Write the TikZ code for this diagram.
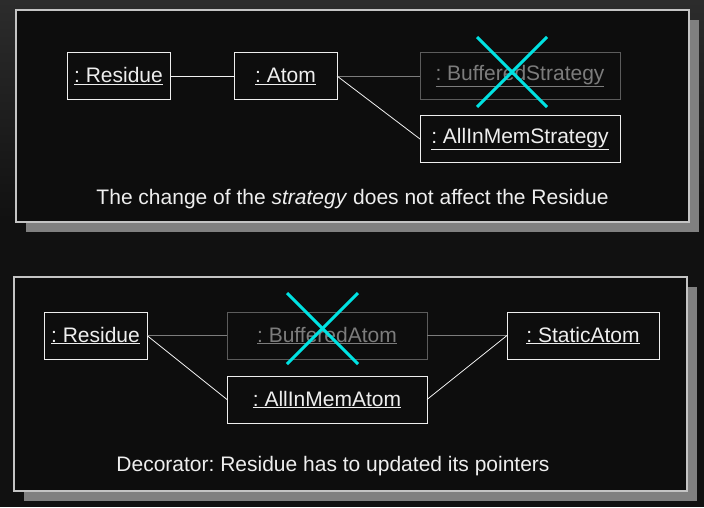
\documentclass[tikz,border=0pt]{standalone}
\usepackage{fontspec}
\setmainfont{Liberation Sans}
\frenchspacing
\usetikzlibrary{positioning}
\definecolor{BgTop}{HTML}{2C2C2C}
\definecolor{BgDark}{HTML}{111111}
\definecolor{PanelFill}{HTML}{0D0D0D}
\definecolor{PanelLine}{HTML}{C4C4C4}
\definecolor{Shadow}{HTML}{808080}
\definecolor{Ink}{HTML}{EEEEEE}
\definecolor{Dim}{HTML}{5C5C5C}
\definecolor{DimInk}{HTML}{7C7C7C}
\definecolor{Cross}{HTML}{00E2E2}

\begin{document}
\begin{tikzpicture}[
    x=1pt, y=-1pt,
    font=\fontsize{21}{25}\selectfont,
    obj/.style={rectangle, draw=Ink, line width=1pt, text=Ink, minimum height=47pt, inner sep=0pt, outer sep=0pt},
    gone/.style={rectangle, draw=Dim, line width=1pt, text=DimInk, minimum height=47pt, inner sep=0pt, outer sep=0pt},
    link/.style={draw=Ink!90, line width=0.8pt},
    deadlink/.style={draw=DimInk, line width=0.8pt},
    panel/.style={fill=PanelFill, draw=PanelLine, line width=1.5pt},
    shadow/.style={fill=Shadow},
    cross/.style={draw=Cross, line width=3pt},
    caption/.style={text=Ink},
  ]

  % Background
  \useasboundingbox (0,0) rectangle (704,507);
  \shade[top color=BgTop, bottom color=BgDark] (0,0) rectangle (704,220);
  \fill[BgDark] (0,220) rectangle (704,507);

  % Panels with shadows
  \fill[shadow] (26,20) rectangle (699,232);
  \draw[panel] (16,10) rectangle (689,222);
  \fill[shadow] (24,287) rectangle (697,501);
  \draw[panel] (14,277) rectangle (687,491);

  % Strategy
  \node[obj, minimum width=103pt] (res1) at (118.5,76) {\underline{: Residue}};
  \node[obj, minimum width=103pt, right=64pt of res1] (atom1) {\underline{: Atom}};
  \node[gone, minimum width=200pt, right=83pt of atom1] (buf1) {\underline{: BufferedStrategy}};
  \node[obj, minimum width=200pt, below=16pt of buf1] (mem1) {\underline{: AllInMemStrategy}};

  \draw[link] (res1) -- (atom1);
  \draw[deadlink] (atom1.east) -- (buf1.west);
  \draw[link] (atom1.east) -- (mem1.west);
  \draw[cross] (477,37) -- (547,107);
  \draw[cross] (547,37) -- (477,107);

  \node[caption] (cap1) at (352.5,199) {The change of the \textit{strategy} does not affect the Residue};

  % Decorator
  \node[obj, minimum width=103pt] (res2) at (95.5,335.5) {\underline{: Residue}};
  \node[gone, minimum width=200pt, right=80pt of res2] (buf2) {\underline{: BufferedAtom}};
  \node[obj, minimum width=200pt, below=17pt of buf2] (mem2) {\underline{: AllInMemAtom}};
  \node[obj, minimum width=152pt, right=80pt of buf2] (stat2) {\underline{: StaticAtom}};

  \draw[deadlink] (res2.east) -- (buf2.west);
  \draw[link] (res2.east) -- (mem2.west);
  \draw[deadlink] (buf2.east) -- (stat2.west);
  \draw[link] (mem2.east) -- (stat2.west);
  \draw[cross] (287,293) -- (358,364);
  \draw[cross] (358,293) -- (287,364);

  \node[caption] (cap2) at (333,466) {Decorator: Residue has to updated its pointers};

\end{tikzpicture}
\end{document}
